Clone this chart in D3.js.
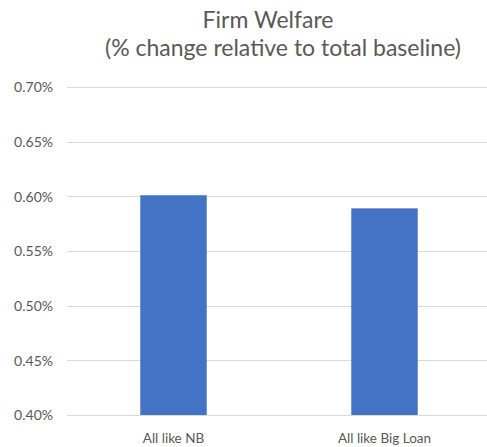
<!DOCTYPE html>
<html><head><meta charset="utf-8">
<script src="https://cdn.jsdelivr.net/npm/d3@7"></script>
<style>body{margin:0;background:#fff;} svg{display:block;}</style>
</head><body>
<svg id="chart" width="487" height="447"></svg>
<script>
const categories = ["All like NB", "All like Big Loan"];
const values = [0.601, 0.589];
const yTicks = [0.40, 0.45, 0.50, 0.55, 0.60, 0.65, 0.70];
const titleLines = ["Firm Welfare", "(% change relative to total baseline)"];

const svg = d3.select("#chart");
const font = "Lato, 'Open Sans', sans-serif";
const textColor = "#595959";

const x = d3.scaleBand().domain(categories).range([68, 490]).paddingInner(0.685).paddingOuter(0.3425);
const y = d3.scaleLinear().domain([0.40, 0.70]).range([415, 87]);

// gridlines
svg.append("g").selectAll("line").data(yTicks).join("line")
  .attr("x1", 67).attr("x2", 487)
  .attr("y1", d => Math.round(y(d)) + 0.5).attr("y2", d => Math.round(y(d)) + 0.5)
  .attr("stroke", "#d9d9d9").attr("stroke-width", 1);

// y axis labels
const yAxis = d3.axisLeft(y).tickValues(yTicks).tickSize(0).tickPadding(0)
  .tickFormat(d => d.toFixed(2) + "%");
const gy = svg.append("g").attr("transform", "translate(53,0)").call(yAxis);
gy.select(".domain").remove();
gy.selectAll("text").attr("font-family", font).attr("font-size", 14).attr("fill", textColor).attr("dy", "0.35em");

// bars
svg.append("g").selectAll("rect").data(values).join("rect")
  .attr("x", (d, i) => x(categories[i]))
  .attr("width", x.bandwidth())
  .attr("y", d => y(d))
  .attr("height", d => y(0.40) - y(d))
  .attr("fill", "#4472c4");

// x labels
const xAxis = d3.axisBottom(x).tickSize(0).tickPadding(0);
const gx = svg.append("g").attr("transform", "translate(0,443)").call(xAxis);
gx.select(".domain").remove();
gx.selectAll("text").attr("font-family", font).attr("font-size", 13.5).attr("fill", textColor).attr("dy", 0);

// title
svg.append("text").attr("x", 268).attr("y", 28).attr("text-anchor", "middle")
  .attr("font-family", font).attr("font-size", 23).attr("fill", textColor).text(titleLines[0]);
svg.append("text").attr("x", 283).attr("y", 56).attr("text-anchor", "middle")
  .attr("font-family", font).attr("font-size", 23).attr("fill", textColor).text(titleLines[1]);
</script>
</body></html>
